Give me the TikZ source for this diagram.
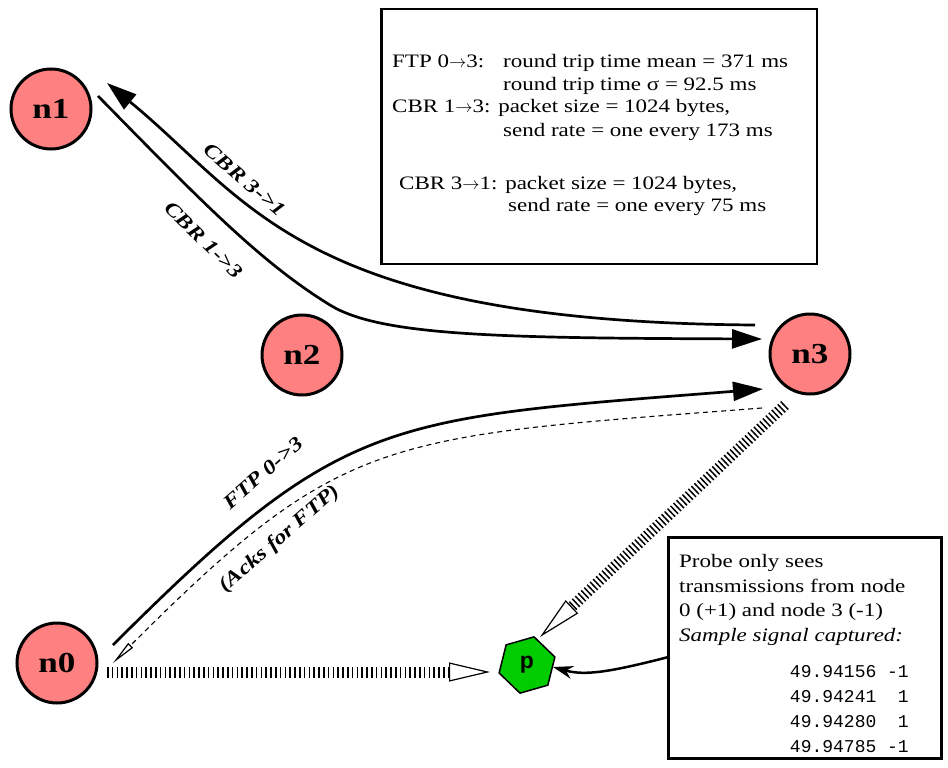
\documentclass[tikz,border=0pt]{standalone}
\usepackage{fontspec}
\setmainfont{Liberation Serif}[FakeStretch=1.21]
\setmonofont{Liberation Mono}
\newfontfamily\probefont{Liberation Sans}
\usetikzlibrary{arrows.meta,calc,shapes.geometric}

\definecolor{nodepink}{RGB}{255,128,128}
\definecolor{probegreen}{RGB}{0,204,0}
\newcommand{\flowarrow}{\ensuremath{\rightarrow}}

\begin{document}
\begin{tikzpicture}[x=1pt,y=-1pt,
  netnode/.style={circle, draw=black, line width=3pt, fill=nodepink,
    minimum size=80pt, inner sep=0pt,
    font=\fontsize{29}{30}\selectfont\bfseries},
  probenode/.style={regular polygon, regular polygon sides=6,
    shape border rotate=16, draw=black, line width=1.5pt, fill=probegreen,
    minimum size=58pt, inner sep=0pt,
    font=\probefont\fontsize{23}{23}\selectfont\bfseries},
  infobox/.style={rectangle, draw=black, outer sep=0pt, inner sep=0pt},
  txt/.style={anchor=base west, inner sep=0pt, font=\fontsize{19}{23}\selectfont},
  mono/.style={anchor=base east, inner sep=0pt, font=\ttfamily\fontsize{18}{22}\selectfont},
  flowlabel/.style={inner sep=0pt, font=\fontsize{20}{22}\selectfont\bfseries\itshape},
  flow/.style={line width=2.7pt},
  solidhead/.style={-{Triangle[length=30pt,width=19pt]}},
  openhead/.style={-{Triangle[open,line width=1.2pt,length=#1]}},
  ackline/.style={line width=1.1pt, dash pattern=on 5pt off 4pt},
  hatch/.style={line width=11pt, dash pattern=on 1.6pt off 3.2pt},
  hatchdense/.style={line width=11pt, dash pattern=on 1.5pt off 2.6pt}
]
\useasboundingbox (0,0) rectangle (948,768);

% network nodes
\node[netnode] (n1) at (51,109) {n1};
\node[netnode] (n2) at (302,355) {n2};
\node[netnode] (n3) at (810,354) {n3};
\node[netnode] (n0) at (57,663) {n0};
\node[probenode] (p) at (527,665) {p};

% statistics box
\node[infobox, line width=2.5pt, anchor=north west,
      minimum width=435.5pt, minimum height=254.5pt] (info) at (381.25,9.25) {};
\node[txt] (i1a) at (392,68) {FTP 0\flowarrow3:};
\node[txt] (i1b) at (503,68) {round trip time mean = 371 ms};
\node[txt] (i2)  at (503,91) {round trip time σ = 92.5 ms};
\node[txt] (i3)  at (392,113) {CBR 1\flowarrow3: packet size = 1024 bytes,};
\node[txt] (i4)  at (503,136) {send rate = one every 173 ms};
\node[txt] (i5)  at (399,189) {CBR 3\flowarrow1: packet size = 1024 bytes,};
\node[txt] (i6)  at (508,211) {send rate = one every 75 ms};

% probe description box
\node[infobox, line width=3pt, anchor=north west,
      minimum width=273pt, minimum height=221pt] (probe) at (668.5,537.5) {};
\node[txt] (b1) at (679,567) {Probe only sees};
\node[txt] (b2) at (679,592) {transmissions from node};
\node[txt] (b3) at (679,616) {0 (+1) and node 3 (-1)};
\node[txt] (b4) at (679,641) {\itshape Sample signal captured:};
\node[mono] (s1) at (909,677) {49.94156 -1};
\node[mono] (s2) at (909,702) {49.94241 \phantom{-}1};
\node[mono] (s3) at (909,727) {49.94280 \phantom{-}1};
\node[mono] (s4) at (909,752) {49.94785 -1};

% CBR traffic between n1 and n3
\draw[flow, solidhead] ($(n3)+(-55,-29)$)
  .. controls (300,322) and (250,200) .. ($(n1)+(56,-26)$);
\draw[flow, solidhead] ($(n1)+(47,-13)$)
  .. controls (200,200) and (260,262) .. (330,305)
  .. controls (380,336) and (500,338) .. ($(n3)+(-48,-15)$);
\node[flowlabel, rotate=-41] (l31) at (245,180) {CBR 3->1};
\node[flowlabel, rotate=-44] (l13) at (204,240) {CBR 1->3};

% FTP traffic and its acknowledgements
\draw[flow, solidhead] ($(n0)+(56,-18)$)
  .. controls (343,415) and (383,419) .. ($(n3)+(-47,35)$);
\draw[ackline, openhead=25pt] ($(n3)+(-48,54)$)
  .. controls (383,437) and (343,433) .. ($(n0)+(56,0)$);
\node[flowlabel, rotate=41] (lftp) at (263,473) {FTP 0->3};
\node[flowlabel, rotate=41] (lack) at (280,539) {(Acks for FTP)};

% what the probe hears
\draw[hatch, -{Triangle[open,line width=1.2pt,length=41pt,width=19pt]}]
  ($(n0)+(50,9)$) -- ($(p)+(-37,7)$);
\draw[hatchdense, -{Triangle[open,line width=1.2pt,length=44pt,width=18pt]}]
  ($(n3)+(-25,51)$) -- ($(p)+(13,-28)$);
\draw[line width=2.5pt, -{Stealth[length=20pt,width=13pt]}]
  ($(probe.west)+(0,9)$) .. controls (610,672) and (585,676) .. ($(p)+(26,2)$);
\end{tikzpicture}
\end{document}
